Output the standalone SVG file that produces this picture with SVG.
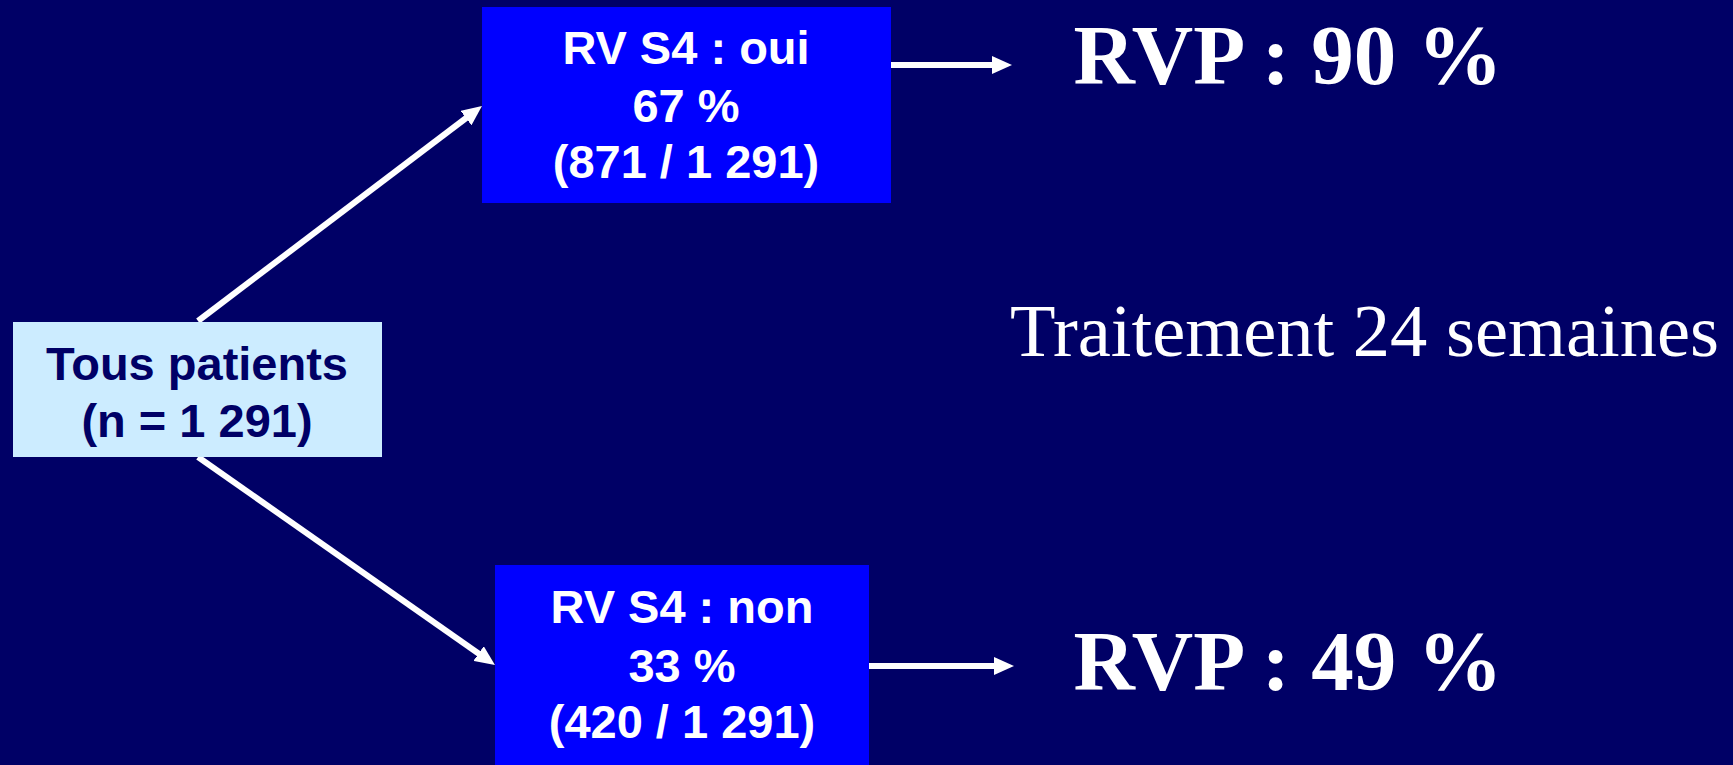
<svg xmlns="http://www.w3.org/2000/svg" width="1733" height="765" viewBox="0 0 1733 765">
  <style>
    .bg { fill: #000066; }
    .boxlight { fill: #CCECFF; }
    .boxblue { fill: #0000FF; }
    .lbl { font-family: "Liberation Sans", Arial, sans-serif; font-weight: bold; font-size: 47px; text-anchor: middle; }
    .lblnavy { fill: #000066; }
    .lblwhite { fill: #FFFFFF; }
    .big { font-family: "Liberation Serif", "Times New Roman", serif; font-weight: bold; font-size: 85px; fill: #FFFFFF; }
    .serif { font-family: "Liberation Serif", "Times New Roman", serif; font-size: 74.5px; fill: #FFFFFF; }
    .conn { stroke: #FFFFFF; stroke-width: 6; fill: none; marker-end: url(#arrow); }
  </style>
  <defs>
    <marker id="arrow" markerUnits="userSpaceOnUse" markerWidth="20" markerHeight="18" viewBox="0 0 20 18" refX="6" refY="9" orient="auto">
      <path d="M0,0 L20,9 L0,18 z" fill="#FFFFFF"/>
    </marker>
  </defs>
  <rect class="bg" x="0" y="0" width="1733" height="765"/>

  <g id="connectors">
    <line class="conn" x1="198" y1="321" x2="470.8" y2="114.5"/>
    <line class="conn" x1="198" y1="457" x2="483.5" y2="657"/>
    <line class="conn" x1="891" y1="65" x2="998" y2="65"/>
    <line class="conn" x1="869" y1="666" x2="1000" y2="666"/>
  </g>

  <g id="node-tous">
    <rect class="boxlight" x="13" y="322" width="369" height="135"/>
    <text class="lbl lblnavy" x="197" y="380">Tous patients</text>
    <text class="lbl lblnavy" x="197" y="437">(n = 1 291)</text>
  </g>

  <g id="node-oui">
    <rect class="boxblue" x="482" y="7" width="409" height="196"/>
    <text class="lbl lblwhite" x="686" y="64">RV S4 : oui</text>
    <text class="lbl lblwhite" x="686" y="122">67 %</text>
    <text class="lbl lblwhite" x="686" y="178">(871 / 1 291)</text>
  </g>

  <g id="node-non">
    <rect class="boxblue" x="495" y="565" width="374" height="200"/>
    <text class="lbl lblwhite" x="682" y="623">RV S4 : non</text>
    <text class="lbl lblwhite" x="682" y="682">33 %</text>
    <text class="lbl lblwhite" x="682" y="738">(420 / 1 291)</text>
  </g>

  <g id="node-rvp90">
    <text class="big" x="1288" y="84" text-anchor="middle">RVP : 90 %</text>
  </g>

  <g id="node-traitement">
    <text class="serif" x="1010" y="356">Traitement 24 semaines</text>
  </g>

  <g id="node-rvp49">
    <text class="big" x="1288" y="690" text-anchor="middle">RVP : 49 %</text>
  </g>
</svg>
